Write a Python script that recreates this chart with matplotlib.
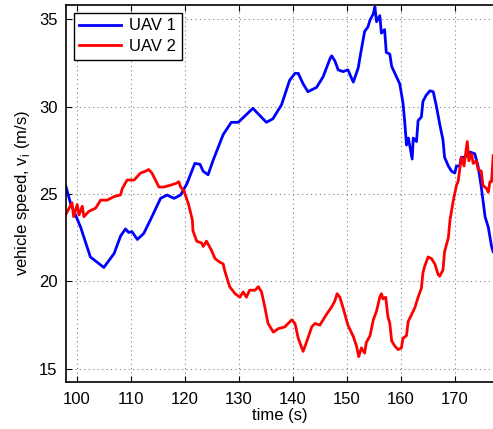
import matplotlib
matplotlib.use('Agg')
import matplotlib.pyplot as plt
import numpy as np

plt.rcParams['font.family'] = ['Liberation Sans', 'DejaVu Sans']
plt.rcParams['mathtext.fontset'] = 'custom'
plt.rcParams['mathtext.rm'] = 'Liberation Sans'

# UAV 1 speed trace
t_uav1 = [98.0, 98.8, 100.7, 102.5, 105.0, 106.9, 108.1, 109.0, 109.6, 110.2, 111.2, 112.4,
          113.9, 115.5, 116.7, 118.0, 119.2, 120.4, 121.85, 122.8, 123.4, 124.3, 125.2,
          127.1, 128.6, 129.9, 132.6, 135.1, 136.3, 137.9, 139.4, 140.4, 141.0, 141.9,
          142.8, 144.4, 145.6, 146.9, 147.2, 147.8, 148.4, 149.3, 150.2, 150.9, 151.2,
          152.1, 152.4, 153.0, 153.3, 153.9, 154.3, 154.9, 155.2, 155.5, 156.1, 156.4,
          157.0, 157.3, 157.96, 158.3, 159.2, 159.8, 160.4, 160.7, 161.05, 161.4, 162.1,
          162.3, 162.9, 163.2, 163.8, 164.1, 164.7, 165.4, 166.0, 166.6, 167.2, 167.8,
          168.1, 168.8, 169.4, 170.0, 170.3, 170.9, 171.2, 171.85, 172.8, 173.7, 174.3,
          174.9, 175.6, 176.2, 176.8, 177.1]
v_uav1 = [25.4, 24.5, 23.1, 21.4, 20.8, 21.6, 22.6, 23.0, 22.8, 22.85, 22.4, 22.75,
          23.7, 24.75, 24.94, 24.75, 24.94, 25.6, 26.75, 26.7, 26.3, 26.1, 26.9,
          28.4, 29.1, 29.1, 29.9, 29.1, 29.3, 30.1, 31.5, 31.9, 31.9, 31.3,
          30.85, 31.1, 31.7, 32.75, 32.9, 32.6, 32.1, 32.0, 32.1, 31.6, 31.4,
          32.2, 32.75, 33.8, 34.3, 34.55, 34.95, 35.3, 35.7, 34.85, 35.2, 34.2,
          34.4, 33.1, 33.0, 32.3, 31.7, 31.3, 30.2, 29.2, 27.8, 28.2, 27.0,
          28.2, 28.0, 29.2, 29.4, 30.3, 30.65, 30.9, 30.85, 30.0, 29.0, 28.1,
          27.1, 26.6, 26.3, 26.2, 26.6, 26.6, 27.1, 27.1, 27.4, 27.3, 26.6,
          25.4, 23.7, 23.1, 22.0, 21.7]

# UAV 2 speed trace
t_uav2 = [97.9, 99.1, 99.4, 100.06, 100.4, 101.0, 101.3, 102.2, 103.5, 104.4, 105.6,
          106.9, 108.1, 108.4, 109.3, 110.6, 111.8, 112.7, 113.3, 113.9, 115.2, 116.1,
          117.3, 118.3, 118.9, 119.2, 119.8, 120.7, 121.4, 121.5, 122.2, 123.1, 123.4,
          124.0, 124.9, 125.6, 126.5, 127.1, 127.4, 128.3, 129.3, 130.2, 130.8, 131.4,
          132.0, 133.0, 133.6, 134.2, 134.8, 135.4, 136.4, 137.3, 138.5, 139.8, 140.4,
          141.0, 141.9, 142.5, 143.5, 144.1, 145.0, 145.6, 146.2, 147.2, 147.8, 148.2,
          148.7, 149.3, 150.2, 151.2, 151.8, 152.2, 152.7, 153.3, 153.6, 154.3, 154.9,
          155.5, 156.1, 156.4, 156.7, 157.2, 157.6, 157.96, 158.3, 158.9, 159.5, 160.1,
          160.4, 161.05, 161.35, 162.6, 163.2, 163.8, 164.1, 164.4, 165.05, 165.7, 166.3,
          166.9, 167.2, 167.8, 168.1, 168.8, 169.1, 169.7, 170.3, 170.6, 170.9, 171.2,
          171.7, 172.3, 172.6, 173.1, 173.4, 174.0, 174.3, 174.9, 175.2, 175.9, 176.2,
          176.5, 176.8, 177.1]
v_uav2 = [23.8, 24.5, 23.7, 24.4, 23.8, 24.3, 23.7, 24.0, 24.2, 24.65, 24.65,
          24.85, 24.95, 25.3, 25.8, 25.8, 26.2, 26.3, 26.4, 26.2, 25.4, 25.4,
          25.5, 25.6, 25.7, 25.4, 25.2, 24.4, 23.5, 22.9, 22.3, 22.2, 22.0,
          22.3, 21.8, 21.3, 21.1, 21.0, 20.6, 19.7, 19.3, 19.1, 19.4, 19.1,
          19.5, 19.5, 19.7, 19.4, 18.55, 17.6, 17.1, 17.3, 17.4, 17.8, 17.6,
          16.75, 16.0, 16.5, 17.4, 17.6, 17.5, 17.8, 18.1, 18.55, 18.9, 19.3,
          19.1, 18.5, 17.5, 16.85, 16.3, 15.7, 16.2, 15.9, 16.5, 16.9, 17.8,
          18.3, 19.1, 19.3, 19.0, 19.1, 18.0, 17.6, 16.6, 16.3, 16.1, 16.2,
          16.75, 16.9, 17.7, 18.5, 19.1, 19.6, 20.5, 20.85, 21.4, 21.3, 21.0,
          20.4, 20.3, 20.65, 21.7, 22.5, 23.5, 24.6, 25.5, 25.7, 26.4, 27.1,
          26.6, 28.0, 26.9, 27.3, 26.75, 26.9, 26.4, 26.3, 25.5, 25.3, 25.1,
          25.7, 25.7, 27.2]

xticks = [100, 110, 120, 130, 140, 150, 160, 170]
yticks = [15, 20, 25, 30, 35]

fig = plt.figure(figsize=(4.93, 4.29), dpi=100)
ax = fig.add_axes([0.134, 0.110, 0.866, 0.878])

ax.plot(t_uav1, v_uav1, color='#0000ff', lw=2.0, label='UAV 1')
ax.plot(t_uav2, v_uav2, color='#ff0000', lw=2.0, label='UAV 2')

ax.set_xlim(98, 177.07)
ax.set_ylim(14.26, 35.8)
ax.set_xticks(xticks)
ax.set_yticks(yticks)
ax.tick_params(direction='in', top=True, right=False, labelsize=12, length=4)
ax.tick_params(axis='x', pad=7)
ax.tick_params(axis='y', pad=6)
ax.grid(True, linestyle=(0, (1, 3)), color='#808080', lw=0.8)
ax.spines['right'].set_visible(False)
for s in ['left', 'top', 'bottom']:
    ax.spines[s].set_linewidth(1.2)

ax.set_xlabel('time (s)', fontsize=12, labelpad=1)
ax.set_ylabel('vehicle speed, v$_\\mathregular{i}$ (m/s)', fontsize=12, labelpad=5)

leg = ax.legend(loc='upper left', fontsize=12, handlelength=2.5, fancybox=False,
                edgecolor='black', framealpha=1, borderaxespad=0.45,
                borderpad=0.35, labelspacing=0.35, handletextpad=0.5)
leg.get_frame().set_linewidth(1.0)

fig.savefig('out.png', dpi=100)
